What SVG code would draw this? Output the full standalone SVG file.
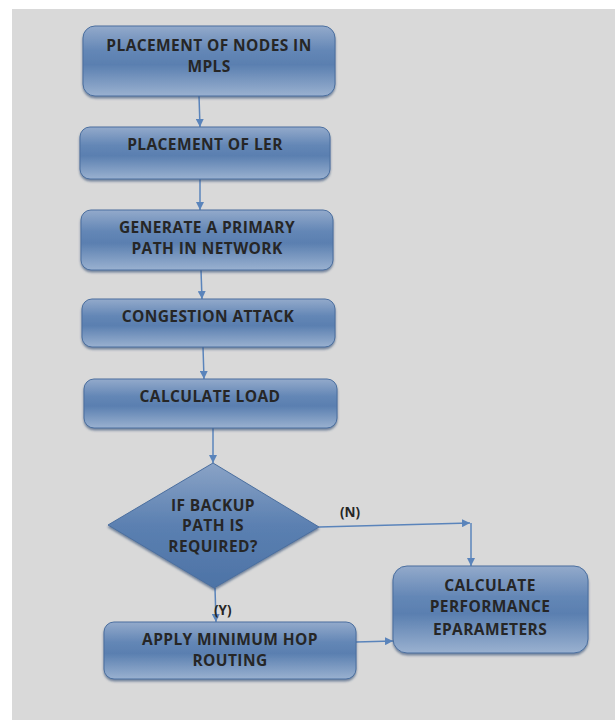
<svg xmlns="http://www.w3.org/2000/svg" width="615" height="720" viewBox="0 0 615 720">
<defs>
<linearGradient id="g" x1="0" y1="0" x2="0" y2="1">
<stop offset="0" stop-color="#93aacb"/>
<stop offset="0.35" stop-color="#6487b6"/>
<stop offset="0.55" stop-color="#5a7fb0"/>
<stop offset="1" stop-color="#9ab1d0"/>
</linearGradient>
<linearGradient id="gd" x1="0" y1="0" x2="0" y2="1">
<stop offset="0" stop-color="#8aa3c6"/>
<stop offset="0.5" stop-color="#5b80b1"/>
<stop offset="1" stop-color="#4d73a6"/>
</linearGradient>
<filter id="sh" x="-10%" y="-10%" width="120%" height="130%">
<feDropShadow dx="0" dy="2" stdDeviation="1.2" flood-color="#2d4a70" flood-opacity="0.6"/>
</filter>
<marker id="ah" viewBox="0 0 10 10" refX="10" refY="5" markerWidth="8" markerHeight="8" markerUnits="userSpaceOnUse" orient="auto">
<path d="M0,0 L10,5 L0,10 z" fill="#5a84bb"/>
</marker>
</defs>
<style>
.box{fill:url(#g);stroke:#4b6f9f;stroke-width:1;filter:url(#sh)}
.dia{fill:url(#gd);stroke:#4b6f9f;stroke-width:1;filter:url(#sh)}
.t{font-family:"Open Sans","Liberation Sans",sans-serif;font-weight:bold;font-size:15.5px;letter-spacing:0.4px;fill:#262626;text-anchor:middle}
.l{font-family:"Open Sans","Liberation Sans",sans-serif;font-weight:bold;font-size:13.5px;fill:#262626}
.c{fill:none;stroke:#5a84bb;stroke-width:1.5;marker-end:url(#ah)}
</style>
<rect x="0" y="0" width="615" height="720" fill="#ffffff"/>
<rect x="12" y="9" width="603" height="711" fill="#d9d9d9"/>
<g id="connectors">
<path class="c" d="M199,96 L200,127"/>
<path class="c" d="M200,179 L200,210"/>
<path class="c" d="M201,270 L202,299"/>
<path class="c" d="M203,347 L204,379"/>
<path class="c" d="M213,428 L213,463"/>
<path class="c" d="M319,527 L470,523"/>
<path class="c" d="M471,523 L471,566"/>
<path class="c" d="M215,588 L216,622"/>
<path class="c" d="M356,642 L393,641"/>
<text class="l" x="340" y="517">(N)</text>
<text class="l" x="214" y="615">(Y)</text>
</g>
<g id="n1"><rect class="box" x="83" y="26" width="252" height="70" rx="12"/>
<text class="t" x="209" y="51">PLACEMENT OF NODES IN</text><text class="t" x="209" y="72">MPLS</text></g>
<g id="n2"><rect class="box" x="80" y="127" width="250" height="52" rx="10"/>
<text class="t" x="205" y="150">PLACEMENT OF LER</text></g>
<g id="n3"><rect class="box" x="81" y="210" width="252" height="60" rx="10"/>
<text class="t" x="207" y="233">GENERATE A PRIMARY</text><text class="t" x="207" y="254">PATH IN NETWORK</text></g>
<g id="n4"><rect class="box" x="82" y="299" width="253" height="48" rx="10"/>
<text class="t" x="208" y="322">CONGESTION ATTACK</text></g>
<g id="n5"><rect class="box" x="84" y="379" width="253" height="49" rx="10"/>
<text class="t" x="210" y="402">CALCULATE LOAD</text></g>
<g id="n6"><path class="dia" d="M213,463 L319,527 L214,588 L108,525 Z"/>
<text class="t" x="213" y="511">IF BACKUP</text><text class="t" x="213" y="531">PATH IS</text><text class="t" x="213" y="552">REQUIRED?</text></g>
<g id="n7"><rect class="box" x="393" y="566" width="195" height="87" rx="14"/>
<text class="t" x="490" y="591">CALCULATE</text><text class="t" x="490" y="612">PERFORMANCE</text><text class="t" x="490" y="635">EPARAMETERS</text></g>
<g id="n8"><rect class="box" x="104" y="622" width="252" height="57" rx="10"/>
<text class="t" x="230" y="645">APPLY MINIMUM HOP</text><text class="t" x="230" y="666">ROUTING</text></g>
</svg>
